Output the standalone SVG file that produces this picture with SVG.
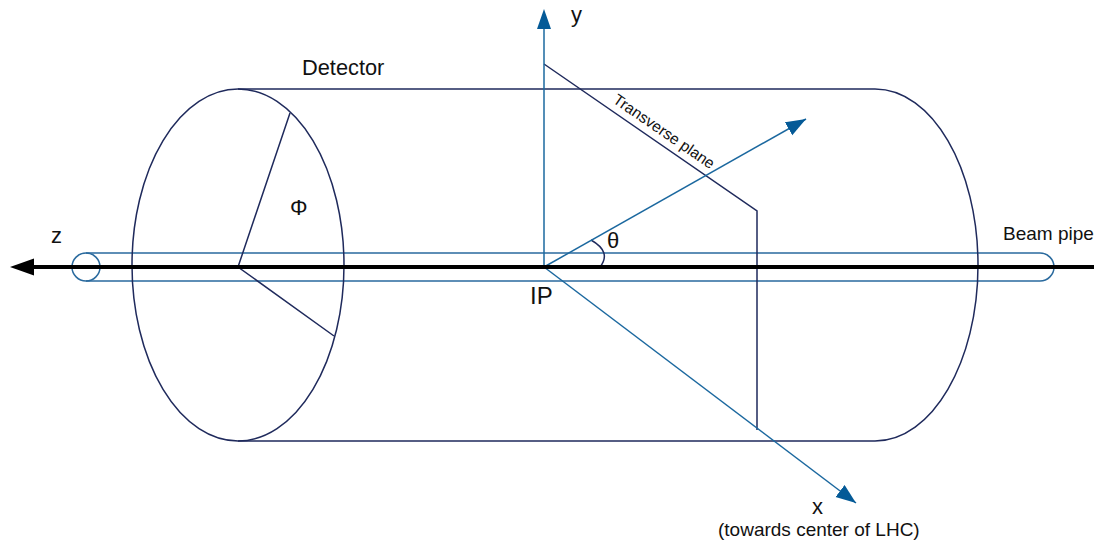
<svg xmlns="http://www.w3.org/2000/svg" width="1094" height="541" viewBox="0 0 1094 541">
<style>
text{font-family:"Liberation Sans",Arial,sans-serif;fill:#111}
.navy{fill:none;stroke:#1f2a5c;stroke-width:1.5}
.blue{fill:none;stroke:#2a6a9e;stroke-width:1.5}
.axis{fill:none;stroke:#1b689f;stroke-width:1.5}
</style>
<defs>
<marker id="ab" markerUnits="userSpaceOnUse" markerWidth="22" markerHeight="16" refX="20" refY="7.5" orient="auto"><path d="M0 0L20 7.5L0 15z" fill="#045a97"/></marker>
</defs>
<rect width="1094" height="541" fill="#fff"/>
<g id="beam-pipe"><path class="blue" d="M86 253H1040A14 14 0 0 1 1040 281H86"/><circle class="blue" cx="86" cy="267" r="14"/></g>
<g id="detector"><ellipse class="navy" cx="238" cy="265" rx="106" ry="176"/><path class="navy" d="M238 89H875C932 89 978 168 978 265C978 362 932 441 875 441H238"/></g>
<g id="connectors">
<path class="navy" d="M290 113L238 267L334 336"/>
<path class="navy" d="M544 64L757 211V430"/>
<path class="navy" d="M591 240Q612 252 600 267"/>
<path class="axis" d="M544 267V29"/>
<path d="M544 9L551 29H537z" fill="#045a97"/>
<path class="axis" d="M544 267L806 119" marker-end="url(#ab)"/>
<path class="axis" d="M544 267L856 503" marker-end="url(#ab)"/>
<path d="M1094 267H30" stroke="#000" stroke-width="4" fill="none"/>
<path d="M10 267L34 258.500V275.500z" fill="#000"/>
</g>
<g id="labels">
<text x="302" y="75" font-size="21.800">Detector</text>
<text x="290" y="215" font-size="22">Φ</text>
<text x="51" y="243" font-size="22">z</text>
<text x="571" y="22" font-size="22">y</text>
<text x="607" y="248" font-size="22">θ</text>
<text x="530" y="304" font-size="24">IP</text>
<text x="1003" y="240" font-size="19">Beam pipe</text>
<text x="812" y="514" font-size="22">x</text>
<text x="718" y="536" font-size="19">(towards center of LHC)</text>
<text transform="translate(612 102) rotate(34.500)" font-size="15.500">Transverse plane</text>
</g>
</svg>
